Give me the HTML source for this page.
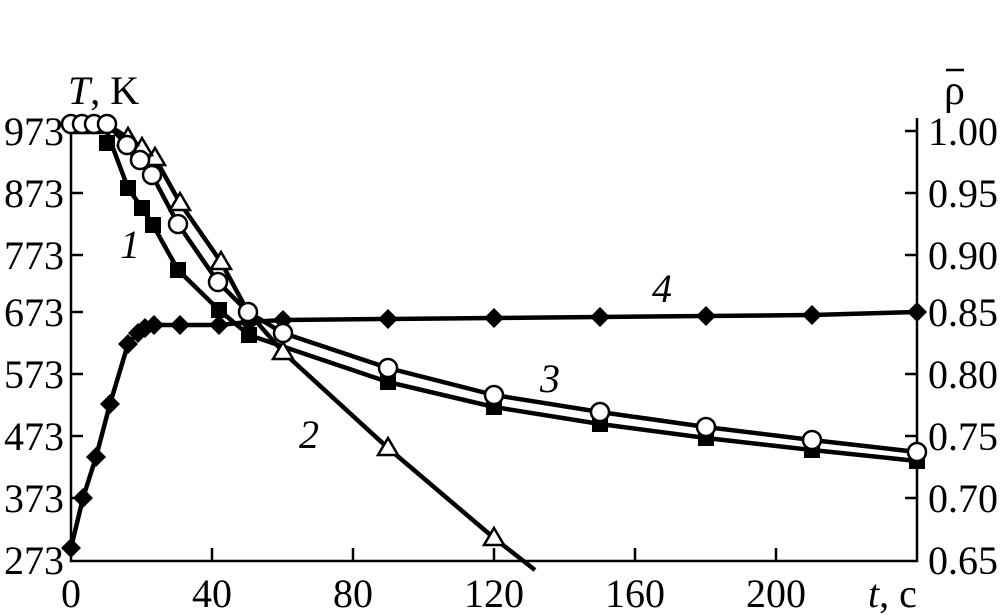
<!DOCTYPE html>
<html><head><meta charset="utf-8"><style>body{margin:0;background:#fff}svg{display:block}</style></head><body>
<svg width="1004" height="615" viewBox="0 0 1004 615" xmlns="http://www.w3.org/2000/svg" font-family="Liberation Serif, serif" font-size="40">
<g stroke="#000" stroke-width="2.5" fill="none">
<line x1="71" y1="118" x2="71" y2="562"/>
<line x1="70" y1="561" x2="918" y2="561"/>
<line x1="917" y1="118" x2="917" y2="562"/>
<path d="M71 131h12M71 193h12M71 255h12M71 312h12M71 374h12M71 436h12M71 498h12M905 131h12M905 193h12M905 255h12M905 312h12M905 374h12M905 436h12M905 498h12M212 561v-13M353 561v-13M494 561v-13M635 561v-13M776 561v-13"/>
</g>
<g text-anchor="end">
<text x="64" y="145">973</text><text x="64" y="207">873</text><text x="64" y="269">773</text><text x="64" y="326">673</text><text x="64" y="388">573</text><text x="64" y="450">473</text><text x="64" y="512">373</text><text x="64" y="574">273</text>
</g>
<g>
<text x="928" y="145">1.00</text><text x="928" y="207">0.95</text><text x="928" y="269">0.90</text><text x="928" y="326">0.85</text><text x="928" y="388">0.80</text><text x="928" y="450">0.75</text><text x="928" y="512">0.70</text><text x="928" y="574">0.65</text>
</g>
<g text-anchor="middle">
<text x="71" y="607">0</text><text x="212" y="607">40</text><text x="353" y="607">80</text><text x="494" y="607">120</text><text x="635" y="607">160</text><text x="776" y="607">200</text>
</g>
<text x="68" y="104"><tspan font-style="italic">T</tspan>, K</text>
<text x="944" y="104" font-size="42">ρ</text><line x1="946" y1="70" x2="964" y2="70" stroke="#000" stroke-width="2.5"/>
<text x="868" y="607"><tspan font-style="italic">t</tspan>, c</text>
<g font-style="italic" font-size="40"><text x="120" y="258">1</text><text x="299" y="448">2</text><text x="540" y="392">3</text><text x="652" y="302">4</text></g>
<g stroke="#000" stroke-width="4.5" fill="none" stroke-linejoin="round">
<polyline points="71,132 107,132 128,188 142,208 153,225 178,270 219,310 249,335 388,382 494,407 600,424 706,438 812,450 917,461"/>
<polyline points="71,124 107,124 127,145 140,160 152,175 178,224 218,282 248,312 283,333 388,368 494,395 600,412 706,427 812,440 917,452"/>
<polyline points="107,124 128,138 142,148 155,158 180,203 221,262 248,312 283,352 388,448 494,538 535,570"/>
<polyline points="71,548 83,498 96,457 110,404 128,344 138,333 145,328 154,325 180,325 219,325 249,322 283,320 388,319 494,318 600,317 706,316 812,315 917,312"/>
</g>
<g fill="#000">
<rect x="99" y="135" width="16" height="16"/><rect x="120" y="180" width="16" height="16"/><rect x="134" y="200" width="16" height="16"/><rect x="145" y="217" width="16" height="16"/><rect x="170" y="262" width="16" height="16"/><rect x="211" y="302" width="16" height="16"/><rect x="241" y="327" width="16" height="16"/><rect x="380" y="374" width="16" height="16"/><rect x="486" y="399" width="16" height="16"/><rect x="592" y="416" width="16" height="16"/><rect x="698" y="430" width="16" height="16"/><rect x="804" y="442" width="16" height="16"/><rect x="909" y="453" width="16" height="16"/>
</g>
<g fill="#000">
<path d="M71 538l10 10-10 10-10-10z M83 488l10 10-10 10-10-10z M96 447l10 10-10 10-10-10z M110 394l10 10-10 10-10-10z M128 334l10 10-10 10-10-10z M138 323l10 10-10 10-10-10z M145 318l10 10-10 10-10-10z M154 315l10 10-10 10-10-10z M180 315l10 10-10 10-10-10z M219 315l10 10-10 10-10-10z M249 312l10 10-10 10-10-10z M283 310l10 10-10 10-10-10z M388 309l10 10-10 10-10-10z M494 308l10 10-10 10-10-10z M600 307l10 10-10 10-10-10z M706 306l10 10-10 10-10-10z M812 305l10 10-10 10-10-10z M917 302l10 10-10 10-10-10z"/>
</g>
<g fill="#fff" stroke="#000" stroke-width="2.5">
<path d="M128 128l10 17h-20z M142 138l10 17h-20z M155 148l10 17h-20z M180 193l10 17h-20z M221 252l10 17h-20z M283 342l10 17h-20z M388 438l10 17h-20z M494 528l10 17h-20z"/>
<circle cx="71" cy="124" r="9"/><circle cx="82" cy="124" r="9"/><circle cx="94" cy="124" r="9"/><circle cx="107" cy="124" r="9"/>
<circle cx="127" cy="145" r="9"/><circle cx="140" cy="160" r="9"/><circle cx="152" cy="175" r="9"/><circle cx="178" cy="224" r="9"/><circle cx="218" cy="282" r="9"/><circle cx="248" cy="312" r="9"/><circle cx="283" cy="333" r="9"/><circle cx="388" cy="368" r="9"/><circle cx="494" cy="395" r="9"/><circle cx="600" cy="412" r="9"/><circle cx="706" cy="427" r="9"/><circle cx="812" cy="440" r="9"/><circle cx="917" cy="452" r="9"/>
</g>
</svg>
</body></html>
